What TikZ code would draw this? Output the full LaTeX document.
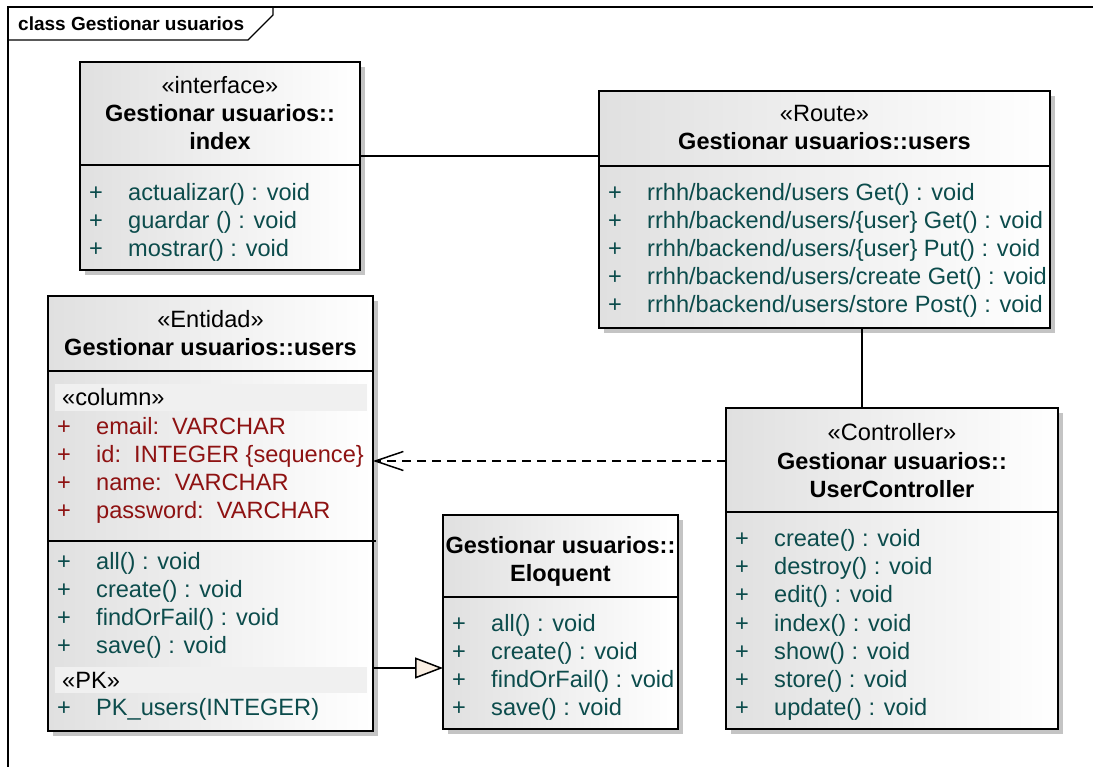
\documentclass[tikz,border=0pt]{standalone}
\usepackage{fontspec}
\setmainfont{Liberation Sans}
\usetikzlibrary{arrows.meta,shadows}
\definecolor{opc}{HTML}{0C4C4C}
\definecolor{attrc}{HTML}{8E1212}
\definecolor{bandc}{HTML}{F0F0F0}
\definecolor{shadowc}{HTML}{C4C4C4}
\definecolor{boxgray}{HTML}{E0E0E0}
\definecolor{genfill}{HTML}{FAEFE3}
\newcommand\rowop[5]{%
  \node[#4, anchor=base] (#1p) at (#2+16,#3+8) {+};
  \node[#4, anchor=base west] (#1) at (#2+48,#3+8) {#5};}
\begin{document}
\begin{tikzpicture}[x=1pt,y=-1pt,
  txt/.style={font=\fontsize{23.6}{28}\selectfont, inner sep=0pt, text=black},
  bold/.style={txt, font=\fontsize{23.5}{28}\selectfont\bfseries},
  optx/.style={txt, text=opc},
  attrtx/.style={txt, text=attrc},
  classbox/.style={draw=black, line width=1.6pt, left color=boxgray, right color=white,
     inner sep=0pt, outer sep=0pt,
     drop shadow={shadow xshift=5pt, shadow yshift=-5pt, fill=shadowc, opacity=1}},
  sepline/.style={draw=black, line width=1.6pt},
  conn/.style={draw=black, line width=1.5pt},
  dep/.style={conn, dash pattern=on 9pt off 6pt, -{Straight Barb[length=28pt,width=19pt,line width=1.5pt]}},
  gen/.style={conn, -{Triangle[length=28pt,width=21pt,fill=genfill,line width=1.5pt]}},
  frame/.style={draw=black, line width=1.3pt}]
\useasboundingbox (0,0) rectangle (1093,767);
\fill[white] (0,0) rectangle (1093,767);

% frame
\draw[frame] (8,767) -- (8,7) -- (1093,7);
\draw[frame] (8,40) -- (248,40) -- (273,15) -- (273,7);
\node[anchor=west, inner sep=0pt, font=\fontsize{19}{22}\selectfont\bfseries] (framelbl) at (18,24) {class Gestionar usuarios};

% ---------- index ----------
\node[classbox, minimum width=280pt, minimum height=208pt] (idx) at (220,166) {};
\draw[sepline] (idx.west |- 0,165) -- (idx.east |- 0,165);
\node[txt, anchor=base] (idxst) at (220,86+8) {«interface»};
\node[bold, anchor=base] (idxn1) at (220,114+8) {Gestionar usuarios::};
\node[bold, anchor=base] (idxn2) at (220,142+8) {index};
\rowop{idxo1}{80}{193}{optx}{actualizar() : void}
\rowop{idxo2}{80}{221}{optx}{guardar () : void}
\rowop{idxo3}{80}{249}{optx}{mostrar() : void}

% ---------- route ----------
\node[classbox, minimum width=451pt, minimum height=237pt] (route) at (824.5,209.5) {};
\draw[sepline] (route.west |- 0,166) -- (route.east |- 0,166);
\node[txt, anchor=base] (routest) at (824.5,114+8) {«Route»};
\node[bold, anchor=base] (routen) at (824.5,142+8) {Gestionar usuarios::users};
\rowop{ro1}{599}{193}{optx}{rrhh/backend/users Get() : void}
\rowop{ro2}{599}{221}{optx}{rrhh/backend/users/\{user\} Get() : void}
\rowop{ro3}{599}{249}{optx}{rrhh/backend/users/\{user\} Put() : void}
\rowop{ro4}{599}{277}{optx}{rrhh/backend/users/create Get() : void}
\rowop{ro5}{599}{305}{optx}{rrhh/backend/users/store Post() : void}

% ---------- users entity ----------
\node[classbox, minimum width=325pt, minimum height=435pt] (users) at (210.5,513.5) {};
\draw[sepline] (users.west |- 0,371) -- (users.east |- 0,371);
\draw[sepline] (users.west |- 0,541) -- ([xshift=3pt]users.east |- 0,541);
\fill[bandc] (55,384) rectangle (367,411);
\fill[bandc] (55,667) rectangle (367,693);
\node[txt, anchor=base] (usersst) at (210.5,320+8) {«Entidad»};
\node[bold, anchor=base] (usersn) at (210.5,348+8) {Gestionar usuarios::users};
\node[txt, anchor=base west] (colst) at (62,398+8) {«column»};
\rowop{ua1}{48}{426}{attrtx}{email:\ \ VARCHAR}
\rowop{ua2}{48}{454}{attrtx}{id:\ \ INTEGER \{sequence\}}
\rowop{ua3}{48}{482}{attrtx}{name:\ \ VARCHAR}
\rowop{ua4}{48}{510}{attrtx}{password:\ \ VARCHAR}
\rowop{uo1}{48}{561}{optx}{all() : void}
\rowop{uo2}{48}{589}{optx}{create() : void}
\rowop{uo3}{48}{617}{optx}{findOrFail() : void}
\rowop{uo4}{48}{645}{optx}{save() : void}
\node[txt, anchor=base west] (pkst) at (62,680+8) {«PK»};
\rowop{upk}{48}{707}{optx}{PK\_users(INTEGER)}

% ---------- Eloquent ----------
\node[classbox, minimum width=235pt, minimum height=214pt] (elo) at (560.5,622) {};
\draw[sepline] (elo.west |- 0,597) -- (elo.east |- 0,597);
\node[bold, anchor=base] (elon1) at (560.5,545+8) {Gestionar usuarios::};
\node[bold, anchor=base] (elon2) at (560.5,573+8) {Eloquent};
\rowop{eo1}{443}{623}{optx}{all() : void}
\rowop{eo2}{443}{651}{optx}{create() : void}
\rowop{eo3}{443}{679}{optx}{findOrFail() : void}
\rowop{eo4}{443}{707}{optx}{save() : void}

% ---------- Controller ----------
\node[classbox, minimum width=332pt, minimum height=321pt] (ctrl) at (892,568.5) {};
\draw[sepline] (ctrl.west |- 0,512) -- (ctrl.east |- 0,512);
\node[txt, anchor=base] (ctrlst) at (892,432+8) {«Controller»};
\node[bold, anchor=base] (ctrln1) at (892,461+8) {Gestionar usuarios::};
\node[bold, anchor=base] (ctrln2) at (892,489+8) {UserController};
\rowop{co1}{726}{538}{optx}{create() : void}
\rowop{co2}{726}{566}{optx}{destroy() : void}
\rowop{co3}{726}{594}{optx}{edit() : void}
\rowop{co4}{726}{623}{optx}{index() : void}
\rowop{co5}{726}{651}{optx}{show() : void}
\rowop{co6}{726}{679}{optx}{store() : void}
\rowop{co7}{726}{707}{optx}{update() : void}

% ---------- connectors ----------
\draw[conn] (idx.east |- 0,156) -- (route.west |- 0,156);
\draw[conn] (route.south -| 862,0) -- (ctrl.north -| 862,0);
\draw[dep] (ctrl.west |- 0,461) -- (users.east |- 0,461);
\draw[gen] (users.east |- 0,668) -- (elo.west |- 0,668);
\end{tikzpicture}
\end{document}
